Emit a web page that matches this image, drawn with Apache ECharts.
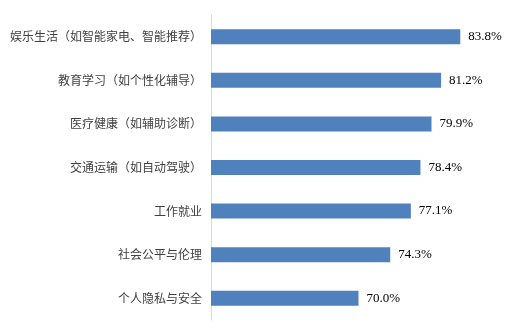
<!DOCTYPE html>
<html>
<head>
<meta charset="utf-8">
<script src="https://cdn.jsdelivr.net/npm/echarts@6/dist/echarts.min.js"></script>
<style>html,body{margin:0;padding:0;background:#fff;}#c{width:522px;height:336px;}</style>
</head>
<body>
<div id="c"></div>
<script>
var categories = ['娱乐生活（如智能家电、智能推荐）','教育学习（如个性化辅导）','医疗健康（如辅助诊断）','交通运输（如自动驾驶）','工作就业','社会公平与伦理','个人隐私与安全'];
var values = [83.8, 81.2, 79.9, 78.4, 77.1, 74.3, 70.0];

var chart = echarts.init(document.getElementById('c'), null, {renderer: 'canvas'});
chart.setOption({
  animation: false,
  backgroundColor: '#ffffff',
  grid: {left: 211, right: 16, top: 15, bottom: 16, containLabel: false},
  xAxis: {
    type: 'value', min: 50, max: 90,
    show: false
  },
  yAxis: {
    type: 'category',
    inverse: true,
    data: categories,
    axisLine: {show: true, lineStyle: {color: '#d9d9d9', width: 1}},
    axisTick: {show: false},
    axisLabel: {
      color: '#404040', fontSize: 12, margin: 9,
      fontFamily: '"Noto Sans CJK SC", sans-serif'
    },
    splitLine: {show: false}
  },
  series: [{
    type: 'bar',
    data: values,
    barWidth: 15,
    itemStyle: {color: '#4f81bd'},
    label: {
      show: true, position: 'right', distance: 8,
      color: '#000', fontSize: 13,
      fontFamily: '"Liberation Serif", "Times New Roman", serif',
      formatter: function (p) { return p.value.toFixed(1) + '%'; }
    }
  }]
});
</script>
</body>
</html>
